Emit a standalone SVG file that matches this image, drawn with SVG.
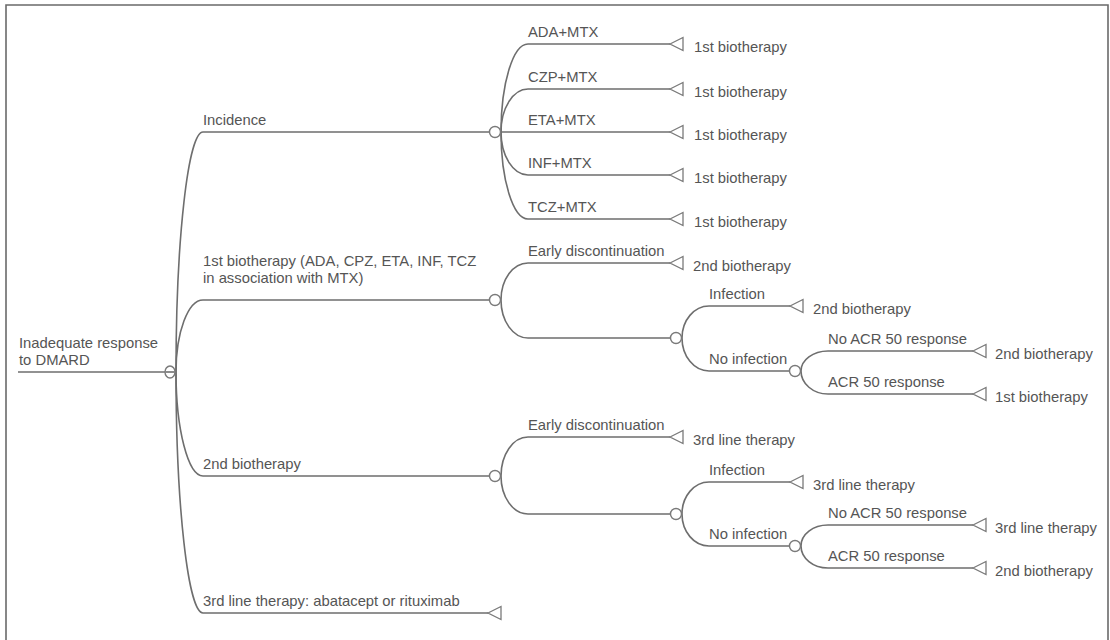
<svg xmlns="http://www.w3.org/2000/svg" width="1110" height="640" viewBox="0 0 1110 640">
<style>
.ln{fill:none;stroke:#6e6e6e;stroke-width:1.6}
.nd{fill:#fff;stroke:#7a7a7a;stroke-width:1.4}
.tm{fill:#fff;stroke:#7a7a7a;stroke-width:1.3}
text{font-family:"Liberation Sans",Arial,sans-serif;font-size:14.8px;fill:#555}
.fr{fill:none;stroke:#6a6a6a;stroke-width:1.6}
</style>
<defs>
<path id="tri" d="M0,0 L13,-6.5 L13,6.5 Z" class="tm"/>
</defs>
<rect width="1110" height="640" fill="#fff"/>
<path class="fr" d="M6,660 V5 H1108 V660"/>

<g id="connectors">
<!-- root -->
<path class="ln" d="M18,372 H165"/>
<path class="ln" d="M176,372 A27,240 0 0 1 203,132 H490"/>
<path class="ln" d="M176,372 A27,72 0 0 1 203,300 H490"/>
<path class="ln" d="M176,372 A27,104 0 0 0 203,476 H490"/>
<path class="ln" d="M176,372 A27,241 0 0 0 203,613 H488"/>
<!-- incidence -->
<path class="ln" d="M501,132 A27,88 0 0 1 528,44 H670"/>
<path class="ln" d="M501,132 A27,43 0 0 1 528,89 H670"/>
<path class="ln" d="M501,132 H670"/>
<path class="ln" d="M501,132 A27,43 0 0 0 528,175 H670"/>
<path class="ln" d="M501,132 A27,87 0 0 0 528,219 H670"/>
<!-- 1st biotherapy -->
<path class="ln" d="M501,300 A27,37 0 0 1 528,263 H670"/>
<path class="ln" d="M501,300 A27,38 0 0 0 528,338 H671"/>
<path class="ln" d="M682,338 A27,32 0 0 1 709,306 H790"/>
<path class="ln" d="M682,338 A27,33 0 0 0 709,371 H790"/>
<path class="ln" d="M801,371 A27,20 0 0 1 828,351 H973"/>
<path class="ln" d="M801,371 A27,23 0 0 0 828,394 H973"/>
<!-- 2nd biotherapy -->
<path class="ln" d="M501,476 A27,39 0 0 1 528,437 H670"/>
<path class="ln" d="M501,476 A27,38 0 0 0 528,514 H671"/>
<path class="ln" d="M682,514 A27,32 0 0 1 709,482 H790"/>
<path class="ln" d="M682,514 A27,32 0 0 0 709,546 H790"/>
<path class="ln" d="M801,546 A27,21 0 0 1 828,525 H973"/>
<path class="ln" d="M801,546 A27,22 0 0 0 828,568 H973"/>
<!-- branch labels -->
<text x="19" y="348">Inadequate response</text>
<text x="19" y="365">to DMARD</text>
<text x="203" y="125">Incidence</text>
<text x="203" y="266">1st biotherapy (ADA, CPZ, ETA, INF, TCZ</text>
<text x="203" y="283">in association with MTX)</text>
<text x="203" y="469">2nd biotherapy</text>
<text x="203" y="606">3rd line therapy: abatacept or rituximab</text>
<text x="528" y="37">ADA+MTX</text>
<text x="528" y="82">CZP+MTX</text>
<text x="528" y="125">ETA+MTX</text>
<text x="528" y="168">INF+MTX</text>
<text x="528" y="212">TCZ+MTX</text>
<text x="528" y="256">Early discontinuation</text>
<text x="709" y="299">Infection</text>
<text x="709" y="364">No infection</text>
<text x="828" y="344">No ACR 50 response</text>
<text x="828" y="387">ACR 50 response</text>
<text x="528" y="430">Early discontinuation</text>
<text x="709" y="475">Infection</text>
<text x="709" y="539">No infection</text>
<text x="828" y="518">No ACR 50 response</text>
<text x="828" y="561">ACR 50 response</text>
</g>

<g id="node-root">
<ellipse class="nd" cx="170" cy="372" rx="5" ry="6"/>
<path class="ln" d="M165.5,372 H174.5" stroke-width="1"/>
</g>
<g id="node-incidence"><circle class="nd" cx="495" cy="132" r="5.5"/></g>
<g id="node-first-bio"><circle class="nd" cx="495" cy="300" r="5.5"/></g>
<g id="node-first-bio-cont"><circle class="nd" cx="676" cy="338" r="5.5"/></g>
<g id="node-first-bio-noinf"><circle class="nd" cx="795" cy="371" r="5.5"/></g>
<g id="node-second-bio"><circle class="nd" cx="495" cy="476" r="5.5"/></g>
<g id="node-second-bio-cont"><circle class="nd" cx="676" cy="514" r="5.5"/></g>
<g id="node-second-bio-noinf"><circle class="nd" cx="795" cy="546" r="5.5"/></g>

<g id="term-ada"><use href="#tri" x="670" y="44"/><text x="694" y="52">1st biotherapy</text></g>
<g id="term-czp"><use href="#tri" x="670" y="89"/><text x="694" y="97">1st biotherapy</text></g>
<g id="term-eta"><use href="#tri" x="670" y="132"/><text x="694" y="140">1st biotherapy</text></g>
<g id="term-inf"><use href="#tri" x="670" y="175"/><text x="694" y="183">1st biotherapy</text></g>
<g id="term-tcz"><use href="#tri" x="670" y="219"/><text x="694" y="227">1st biotherapy</text></g>
<g id="term-b1-early"><use href="#tri" x="670" y="263"/><text x="693" y="271">2nd biotherapy</text></g>
<g id="term-b1-inf"><use href="#tri" x="790" y="306"/><text x="813" y="314">2nd biotherapy</text></g>
<g id="term-b1-noacr"><use href="#tri" x="973" y="351"/><text x="995" y="359">2nd biotherapy</text></g>
<g id="term-b1-acr"><use href="#tri" x="973" y="394"/><text x="995" y="402">1st biotherapy</text></g>
<g id="term-b2-early"><use href="#tri" x="670" y="437"/><text x="693" y="445">3rd line therapy</text></g>
<g id="term-b2-inf"><use href="#tri" x="790" y="482"/><text x="813" y="490">3rd line therapy</text></g>
<g id="term-b2-noacr"><use href="#tri" x="973" y="525"/><text x="995" y="533">3rd line therapy</text></g>
<g id="term-b2-acr"><use href="#tri" x="973" y="568"/><text x="995" y="576">2nd biotherapy</text></g>
<g id="term-third"><use href="#tri" x="488" y="613"/></g>
</svg>
